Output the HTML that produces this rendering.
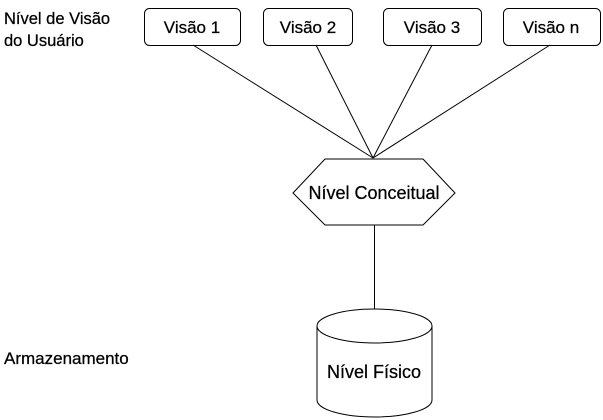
<!DOCTYPE html>
<html><head><meta charset="utf-8"><style>body{margin:0;background:#fff}svg{display:block}</style></head><body>
<svg width="603" height="420" xmlns="http://www.w3.org/2000/svg" font-family="Liberation Sans, Arial, sans-serif" font-size="17" fill="none" stroke="#000">
<rect x="0" y="0" width="603" height="420" fill="#fff" stroke="none"/>
<g stroke-width="1">
<rect x="144.5" y="8.5" width="96" height="37" rx="5"/>
<rect x="263.5" y="8.5" width="89" height="37" rx="5"/>
<rect x="383.5" y="8.5" width="98" height="37" rx="5"/>
<rect x="503.5" y="8.5" width="97" height="37" rx="5"/>
<line x1="193" y1="45" x2="373" y2="158"/>
<line x1="316" y1="45" x2="373" y2="158"/>
<line x1="432" y1="45" x2="373" y2="158"/>
<line x1="550" y1="45" x2="373" y2="158"/>
<polygon points="293,193 325,159 423,159 455,193 423,225 325,225"/>
<line x1="374.5" y1="225" x2="374.5" y2="309"/>
<path d="M317,326 A57.5,17 0 0 1 432,326 A57.5,17 0 0 1 317,326 Z"/>
<path d="M317,326 L317,400 A57.5,17 0 0 0 432,400 L432,326"/>
</g>
<g fill="#000" stroke="#000" stroke-width="0.25">
<text x="192" y="33" text-anchor="middle">Visão 1</text>
<text x="308" y="33" text-anchor="middle">Visão 2</text>
<text x="432" y="33" text-anchor="middle">Visão 3</text>
<text x="551" y="33" text-anchor="middle">Visão n</text>
<text x="374" y="199" text-anchor="middle" font-size="18">Nível Conceitual</text>
<text x="374" y="378" text-anchor="middle" font-size="18">Nível Físico</text>
<text x="4" y="24" font-size="16.5">Nível de Visão</text>
<text x="4" y="46" font-size="16.5">do Usuário</text>
<text x="4" y="364" font-size="17">Armazenamento</text>
</g>
</svg>
</body></html>
